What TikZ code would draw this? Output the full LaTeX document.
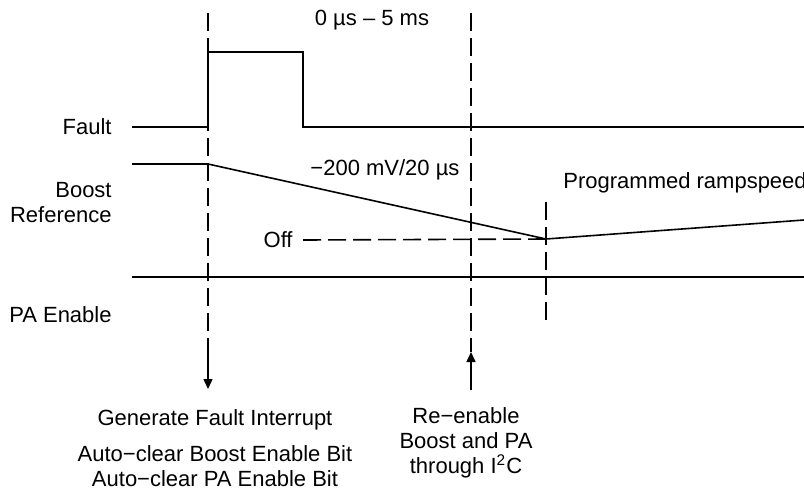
\documentclass[tikz,border=0pt]{standalone}
\usepackage{fontspec}
\setmainfont{Liberation Sans}
\usetikzlibrary{arrows.meta, positioning}

\begin{document}
\begin{tikzpicture}[x=0.5pt, y=-0.5pt, font=\fontsize{11}{12.5}\selectfont,
  sig/.style={line width=0.8pt},
  guide/.style={line width=0.8pt, dash pattern=on 9pt off 3.5pt},
  lbl/.style={inner sep=0pt},
  tip/.style={-{Triangle[length=5pt, width=4.5pt]}}]
  \useasboundingbox (0,0) rectangle (804,489);

  % time marks
  \coordinate (t0) at (208,13);
  \coordinate (t1) at (471,13);
  \coordinate (t2) at (546,202);
  \coordinate (t0e) at (208,350);
  \coordinate (t1e) at (471,352);
  \coordinate (t2e) at (546,323);

  % signal names
  \node[lbl, anchor=east] (fault) at (112,127) {Fault};
  \node[lbl, anchor=east, align=right] (boost) at (112,203) {Boost\\Reference};
  \node[lbl, anchor=east] (pa) at (112,315) {PA Enable};

  % fault pulse
  \draw[sig] (132,127) -- (208,127) -- (208,52) -- (303,52) -- (303,127) -- (804,127);

  % boost reference ramp
  \coordinate (off) at (546,239);
  \draw[sig] (132,164) -- (208,164) -- (off) -- (804,220);
  \node[lbl, anchor=east] (offlbl) at (293,240) {Off};
  \draw[guide] (offlbl.east) ++(5pt,0) -- (off);

  % PA enable
  \draw[sig] (132,277) -- (804,277);

  % dashed markers
  \draw[guide] (t0) -- (t0e);
  \draw[guide] (t1) -- (t1e);
  \draw[guide] (t2) -- (t2e);

  % annotations
  \node[lbl] (span) at (372,20) {0 µs – 5 ms};
  \node[lbl] (slope) at (385,170) {−200 mV/20 µs};
  \node[lbl, anchor=west] (prog) at (563,183) {Programmed rampspeed};

  % events
  \coordinate (dn) at (208,389);
  \draw[sig, tip] (t0e) -- (dn);
  \node[lbl] (gen) at (215,420) {Generate Fault Interrupt};
  \node[lbl, align=center] (clr) at (215,466) {Auto−clear Boost Enable Bit\\Auto−clear PA Enable Bit};

  \coordinate (up) at (471,390);
  \draw[sig, tip] (up) -- (t1e);
  \node[lbl, align=center] (reen) at (466,443) {Re−enable\\Boost and PA\\through I\textsuperscript{2}C};
\end{tikzpicture}
\end{document}
